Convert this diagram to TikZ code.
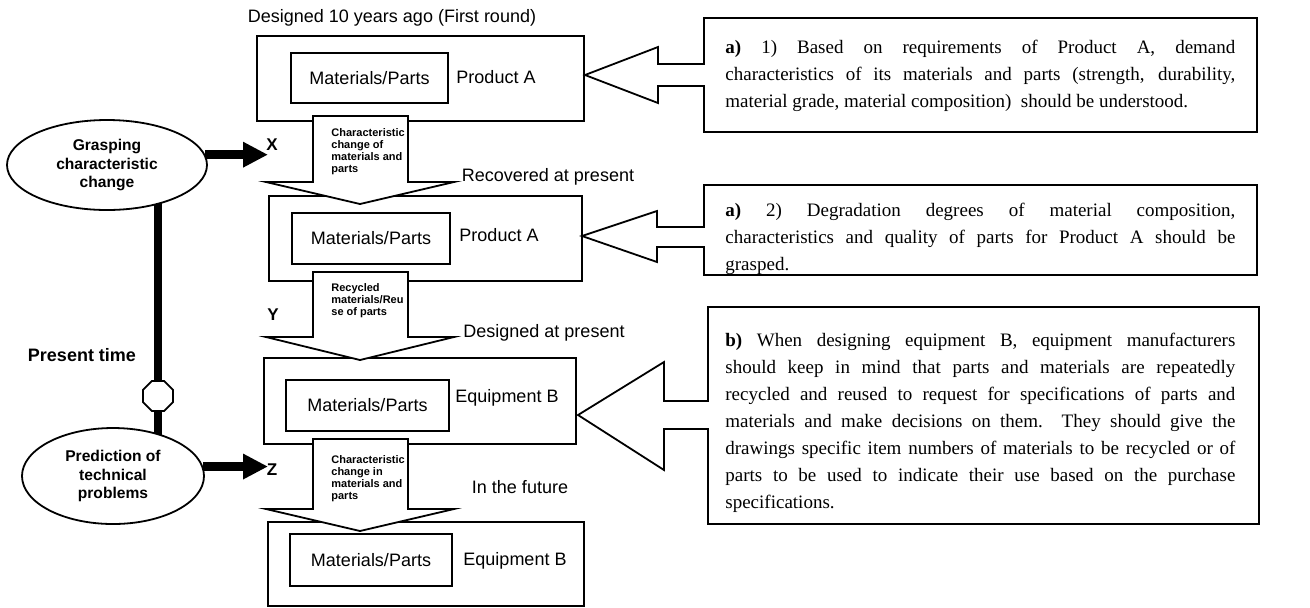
\documentclass[tikz,border=0pt]{standalone}
\usepackage{fontspec}
\setmainfont{Liberation Serif}
\setsansfont{Liberation Sans}
\usetikzlibrary{shapes.geometric,arrows.meta,backgrounds}

\begin{document}
\begin{tikzpicture}[x=0.5pt,y=-0.5pt,
  every node/.style={inner sep=0pt},
  frame/.style={draw, line width=1pt, anchor=north west},
  part/.style={draw, line width=1pt, anchor=north west, font=\sffamily\fontsize{9}{11}\selectfont},
  lbl/.style={font=\sffamily\fontsize{9}{11}\selectfont},
  flowtext/.style={anchor=north west, align=left, font=\sffamily\bfseries\fontsize{5.5}{6}\selectfont},
  oval/.style={ellipse, draw, line width=0.9pt, fill=white, align=center, font=\sffamily\bfseries\fontsize{7.8}{9.25}\selectfont},
  letter/.style={font=\sffamily\bfseries\fontsize{8.5}{10}\selectfont},
  note/.style={anchor=north west, text width=255pt, align=justify, font=\fontsize{9.5}{13.5}\selectfont},
  blockarrow/.style={draw, fill=white, line width=0.9pt, line join=miter},
  fatarrow/.style={line width=4.5pt, -{Triangle[length=12.5pt,width=12pt]}}
]
\useasboundingbox (0,0) rectangle (1310,607);

% ---- central column: product / equipment frames ----
\node[frame, minimum width=163.5pt, minimum height=42.5pt] (f1) at (256,35) {};
\node[part, minimum width=78.5pt, minimum height=25pt] (m1) at (290,52) {Materials/Parts};
\node[lbl] (p1) at (496,77) {Product A};

\node[frame, minimum width=156.5pt, minimum height=42.5pt] (f2) at (268,195) {};
\node[part, minimum width=79pt, minimum height=25.5pt] (m2) at (291,212) {Materials/Parts};
\node[lbl] (p2) at (499,235) {Product A};

\node[frame, minimum width=156pt, minimum height=43pt] (f3) at (263,357) {};
\node[part, minimum width=81.5pt, minimum height=25.5pt] (m3) at (285,379) {Materials/Parts};
\node[lbl] (p3) at (507,398) {Equipment B};

\node[frame, minimum width=158pt, minimum height=42pt] (f4) at (267,521) {};
\node[part, minimum width=81pt, minimum height=26pt] (m4) at (289,533) {Materials/Parts};
\node[lbl] (p4) at (515,561) {Equipment B};

% ---- stage captions ----
\node[lbl] (c1) at (392,18) {Designed 10 years ago (First round)};
\node[lbl] (c2) at (548,177) {Recovered at present};
\node[lbl] (c3) at (544,333) {Designed at present};
\node[lbl] (c4) at (520,487) {In the future};

% ---- downward block arrows between the stages ----
\draw[blockarrow] (313,116) -- (408,116) -- (408,182) -- (454,182) -- (360,204)
  -- (266,182) -- (313,182) -- cycle;
\node[flowtext] (t1) at (331,128) {Characteristic\\change of\\materials and\\parts};

\draw[blockarrow] (313,272) -- (408,272) -- (408,337) -- (454,337) -- (360,360)
  -- (266,337) -- (313,337) -- cycle;
\node[flowtext] (t2) at (331,283) {Recycled\\materials/Reu\\se of parts};

\draw[blockarrow] (313,439) -- (408,439) -- (408,509) -- (454,509) -- (360,531)
  -- (266,509) -- (313,509) -- cycle;
\node[flowtext] (t3) at (331,455) {Characteristic\\change in\\materials and\\parts};

% ---- left column: time line ----
\node[oval, minimum width=100pt, minimum height=45pt] (e1) at (107,165)
  {Grasping\\characteristic\\change};
\node[oval, minimum width=91pt, minimum height=48pt] (e2) at (113,476)
  {Prediction of\\technical\\problems};
\node[regular polygon, regular polygon sides=8, draw, fill=white, line width=0.9pt,
  minimum size=16.2pt] (oct) at (158,396) {};
\node[font=\sffamily\bfseries\fontsize{9}{11}\selectfont] (now) at (82,355) {Present time};

\begin{scope}[on background layer]
  \draw[line width=4pt] (e1.center -| oct.center) -- (oct.center);
  \draw[line width=4pt] (oct.center) -- (e2.center -| oct.center);
\end{scope}

\coordinate (xtip) at (268,155);
\coordinate (ztip) at (268,466);
\node[letter] (lx) at (272,145) {X};
\node[letter] (ly) at (273,315) {Y};
\node[letter] (lz) at (272,470) {Z};
\draw[fatarrow] (e1.6) -- (e1.6 -| xtip);
\draw[fatarrow] (e2.6) -- (e2.6 -| ztip);

% ---- right column: requirement notes ----
\node[frame, minimum width=276.5pt, minimum height=57pt] (n1) at (703,17) {};
\node[frame, minimum width=276.5pt, minimum height=45pt] (n2) at (703,184) {};
\node[frame, minimum width=275.5pt, minimum height=108.5pt] (n3) at (707,306) {};

% open left-pointing arrows leaving each note
\fill[white] (700,65) rectangle (706,85);
\draw[line width=0.9pt, line join=miter] (703,64) -- (658,64) -- (658,47) -- (585,75)
  -- (658,103) -- (658,86) -- (703,86);
\fill[white] (700,228) rectangle (706,246);
\draw[line width=0.9pt, line join=miter] (703,227) -- (657,227) -- (657,211) -- (582,236)
  -- (657,262) -- (657,247) -- (703,247);
\fill[white] (704,402) rectangle (710,428);
\draw[line width=0.9pt, line join=miter] (707,401) -- (664,401) -- (664,362) -- (578,415)
  -- (664,470) -- (664,429) -- (707,429);

\node[note] (tx1) at (725,40) {\textbf{a)} 1) Based on requirements of Product A, demand\linebreak
  characteristics of its materials and parts (strength, durability,\linebreak
  material grade, material composition)\ \ should be understood.};
\node[note] (tx2) at (725,203) {\textbf{a)} 2) Degradation degrees of material composition,\linebreak
  characteristics and quality of parts for Product A should be\linebreak
  grasped.};
\node[note] (tx3) at (725,333) {\textbf{b)} When designing equipment B, equipment manufacturers\linebreak
  should keep in mind that parts and materials are repeatedly\linebreak
  recycled and reused to request for specifications of parts and\linebreak
  materials and make decisions on them.\ \ They should give the\linebreak
  drawings specific item numbers of materials to be recycled or of\linebreak
  parts to be used to indicate their use based on the purchase\linebreak
  specifications.};
\end{tikzpicture}
\end{document}
